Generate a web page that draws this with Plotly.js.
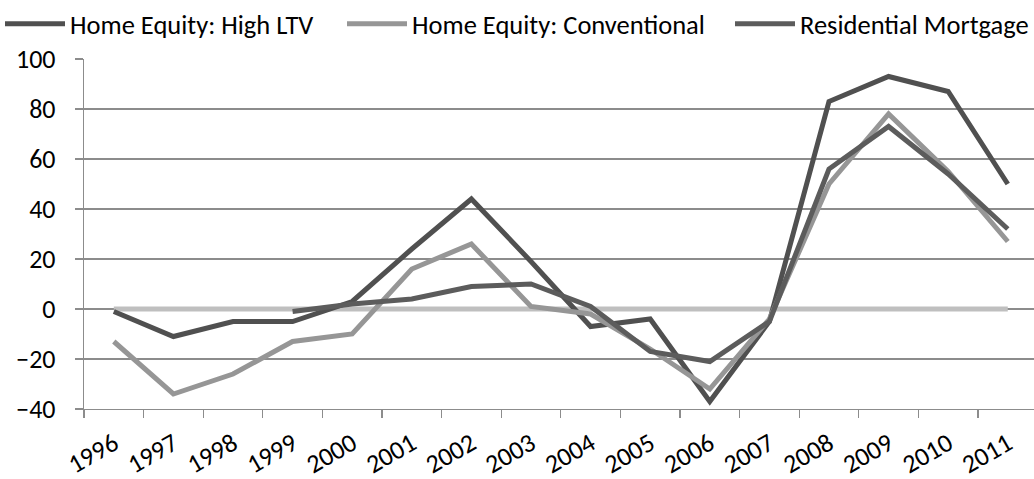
<!DOCTYPE html>
<html>
<head>
<meta charset="utf-8">
<script src="https://cdn.plot.ly/plotly-3.0.1.min.js"></script>
<style>
html,body{margin:0;padding:0;background:#fff;}
#chart{width:1034px;height:479px;}
</style>
</head>
<body>
<div id="chart"></div>
<script>
const years = ['1996','1997','1998','1999','2000','2001','2002','2003','2004','2005','2006','2007','2008','2009','2010','2011'];
const highLTV = [-1,-11,-5,-5,3,24,44,19,-7,-4,-37,-5,83,93,87,50];
const conventional = [-13,-34,-26,-13,-10,16,26,1,-2,-16,-32,-4,50,78,55,27];
const residential = [null,null,null,-1,2,4,9,10,1,-17,-21,-5,56,73,54,32];
const zeroLine = [0,0,0,0,0,0,0,0,0,0,0,0,0,0,0,0];
const names = ['Home Equity: High LTV','Home Equity: Conventional','Residential Mortgage'];

const FONT = 'Carlito, Lato, "Liberation Sans", sans-serif';
const GRID = '#8c8c8c';

const traces = [
  {x: years, y: zeroLine, mode: 'lines', showlegend: false, hoverinfo: 'skip',
   line: {color: '#bfbfbf', width: 5}},
  {x: years, y: highLTV, name: names[0], mode: 'lines', legend: 'legend',
   line: {color: '#505050', width: 5}},
  {x: years, y: conventional, name: names[1], mode: 'lines', legend: 'legend2',
   line: {color: '#969696', width: 5}},
  {x: years, y: residential, name: names[2], mode: 'lines', legend: 'legend3',
   connectgaps: false, line: {color: '#5c5c5c', width: 5}}
];

const legendBase = {orientation: 'h', xref: 'container', yref: 'container',
  xanchor: 'left', yanchor: 'top', y: 1, itemwidth: 60,
  font: {family: FONT, size: 26.5, color: '#000'}, bgcolor: 'rgba(0,0,0,0)'};

const layout = {
  width: 1034, height: 479,
  margin: {l: 84, r: 0, t: 59.3, b: 69.7, pad: 0},
  paper_bgcolor: '#fff', plot_bgcolor: '#fff',
  font: {family: FONT, size: 26, color: '#000'},
  legend: Object.assign({}, legendBase, {x: 0 / 1034}),
  legend2: Object.assign({}, legendBase, {x: 342 / 1034}),
  legend3: Object.assign({}, legendBase, {x: 730 / 1034}),
  xaxis: {
    type: 'category', range: [-0.5, 15.44], tickson: 'boundaries',
    ticks: 'outside', ticklen: 8, tickcolor: GRID, tickwidth: 1.3,
    showline: true, linecolor: GRID, linewidth: 1.3,
    showgrid: false, zeroline: false, tickangle: -30,
    ticklabelstandoff: 8,
    tickfont: {family: FONT, size: 26, color: '#000'}
  },
  yaxis: {
    range: [-40, 100], dtick: 20, tick0: 0,
    ticks: 'outside', ticklen: 8, tickcolor: GRID, tickwidth: 1.3,
    showline: true, linecolor: GRID, linewidth: 1.3,
    showgrid: true, gridcolor: GRID, gridwidth: 1.3, zeroline: false,
    ticklabelstandoff: 14,
    tickfont: {family: FONT, size: 26, color: '#000'}
  }
};

Plotly.newPlot('chart', traces, layout, {displayModeBar: false, staticPlot: true});
</script>
</body>
</html>
